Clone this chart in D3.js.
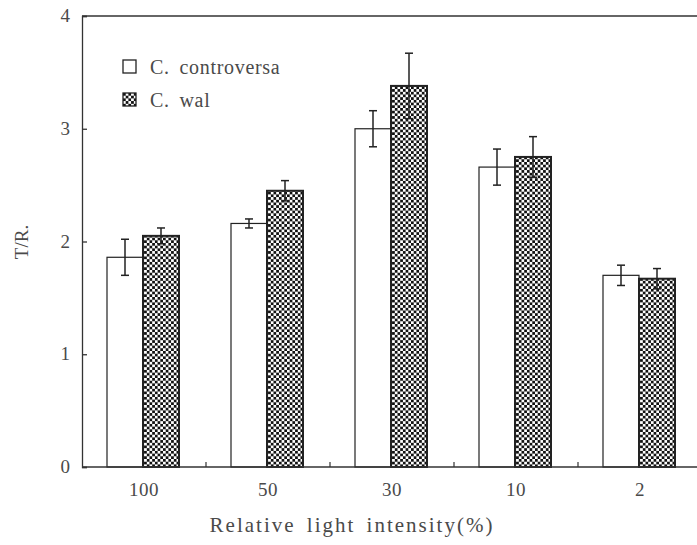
<!DOCTYPE html>
<html>
<head>
<meta charset="utf-8">
<script src="https://cdn.jsdelivr.net/npm/d3@7"></script>
<style>
  body { margin: 0; background: #fff; }
  text { font-family: "Liberation Serif", serif; fill: #4a4a4a; }
</style>
</head>
<body>
<div id="chart"></div>
<script>
(function () {

    var categories = ['100', '50', '30', '10', '2']
    var seriesNames = ['C. controversa', 'C. wal']
    var controversa = [1.86, 2.16, 3.00, 2.66, 1.70]
    var controversaErr = [0.16, 0.04, 0.16, 0.16, 0.09]
    var wal = [2.05, 2.45, 3.38, 2.75, 1.67]
    var walErr = [0.07, 0.09, 0.29, 0.18, 0.09]
    var yTicks = [0, 1, 2, 3, 4]

    var width = 697, height = 545
    var left = 82, top = 16, bottom = 467

    var svg = d3.select('#chart')
        .append('svg')
        .attr('width', width)
        .attr('height', height)

    var defs = svg.append('defs')
    var pat = defs.append('pattern')
        .attr('id', 'checker')
        .attr('patternUnits', 'userSpaceOnUse')
        .attr('width', 5.4)
        .attr('height', 5.4)
    pat.append('rect').attr('width', 5.4).attr('height', 5.4).attr('fill', '#fff')
    pat.append('rect').attr('width', 2.7).attr('height', 2.7).attr('fill', '#111')
    pat.append('rect').attr('x', 2.7).attr('y', 2.7).attr('width', 2.7).attr('height', 2.7).attr('fill', '#111')

    var x = d3.scaleBand().domain(categories).range([left, left + 124 * 5])
    var xInner = d3.scaleBand().domain(seriesNames).range([25, 97])
    var y = d3.scaleLinear().domain([0, 4]).range([bottom, top])

    var data = categories.map(function (c, i) {
        return [
            {cat: c, s: seriesNames[0], v: controversa[i], e: controversaErr[i]},
            {cat: c, s: seriesNames[1], v: wal[i], e: walErr[i]}
        ]
    })

    var groups = svg.selectAll('.grp')
        .data(data)
        .enter().append('g')
        .attr('class', 'grp')
        .attr('transform', function (d) { return 'translate(' + x(d[0].cat) + ',0)' })

    groups.selectAll('rect')
        .data(function (d) { return d })
        .enter().append('rect')
        .attr('x', function (d) { return xInner(d.s) })
        .attr('y', function (d) { return y(d.v) })
        .attr('width', xInner.bandwidth())
        .attr('height', function (d) { return y(0) - y(d.v) })
        .attr('fill', function (d) { return d.s === seriesNames[0] ? '#fff' : 'url(#checker)' })
        .attr('stroke', '#222')
        .attr('stroke-width', function (d) { return d.s === seriesNames[0] ? 1.2 : 2 })

    var err = groups.selectAll('.err')
        .data(function (d) { return d })
        .enter().append('g')
        .attr('class', 'err')
        .attr('stroke', '#222')
        .attr('stroke-width', 1.5)
    err.append('line')
        .attr('x1', function (d) { return xInner(d.s) + xInner.bandwidth() / 2 })
        .attr('x2', function (d) { return xInner(d.s) + xInner.bandwidth() / 2 })
        .attr('y1', function (d) { return y(d.v + d.e) })
        .attr('y2', function (d) { return y(d.v - d.e) })
    err.append('line')
        .attr('x1', function (d) { return xInner(d.s) + xInner.bandwidth() / 2 - 4 })
        .attr('x2', function (d) { return xInner(d.s) + xInner.bandwidth() / 2 + 4 })
        .attr('y1', function (d) { return y(d.v + d.e) })
        .attr('y2', function (d) { return y(d.v + d.e) })
    err.append('line')
        .attr('x1', function (d) { return xInner(d.s) + xInner.bandwidth() / 2 - 4 })
        .attr('x2', function (d) { return xInner(d.s) + xInner.bandwidth() / 2 + 4 })
        .attr('y1', function (d) { return y(d.v - d.e) })
        .attr('y2', function (d) { return y(d.v - d.e) })

    // frame
    svg.append('line').attr('x1', left).attr('x2', width).attr('y1', top).attr('y2', top)
        .attr('stroke', '#333').attr('stroke-width', 1.3)
    svg.append('line').attr('x1', left).attr('x2', width).attr('y1', bottom).attr('y2', bottom)
        .attr('stroke', '#333').attr('stroke-width', 1.3)

    // y axis, ticks pointing inward
    var yAxis = svg.append('g')
        .attr('transform', 'translate(' + left + ',0)')
        .call(d3.axisRight(y).tickValues(yTicks).tickSize(5).tickFormat(''))
    yAxis.select('.domain').attr('stroke', '#333').attr('stroke-width', 1.3)
    yAxis.selectAll('line').attr('stroke', '#333').attr('stroke-width', 1.3)

    svg.selectAll('.ylab')
        .data(yTicks)
        .enter().append('text')
        .attr('class', 'ylab')
        .attr('x', left - 12)
        .attr('y', function (d) { return y(d) + 6 })
        .attr('text-anchor', 'end')
        .attr('font-size', 19)
        .text(function (d) { return d })

    // x ticks between groups, pointing up
    svg.selectAll('.xtick')
        .data(categories.slice(1))
        .enter().append('line')
        .attr('class', 'xtick')
        .attr('x1', function (d) { return x(d) })
        .attr('x2', function (d) { return x(d) })
        .attr('y1', bottom)
        .attr('y2', bottom - 5)
        .attr('stroke', '#333')
        .attr('stroke-width', 1.2)

    svg.selectAll('.xlab')
        .data(categories)
        .enter().append('text')
        .attr('class', 'xlab')
        .attr('x', function (d) { return x(d) + x.bandwidth() / 2 })
        .attr('y', 496)
        .attr('text-anchor', 'middle')
        .attr('font-size', 19)
        .attr('letter-spacing', 0.5)
        .text(function (d) { return d })

    svg.append('text')
        .attr('x', 352)
        .attr('y', 532)
        .attr('text-anchor', 'middle')
        .attr('font-size', 21)
        .attr('letter-spacing', 2)
        .attr('word-spacing', 4)
        .text('Relative light intensity(%)')

    svg.append('text')
        .attr('transform', 'translate(28,242) rotate(-90)')
        .attr('text-anchor', 'middle')
        .attr('font-size', 19)
        .text('T/R.')

    // legend
    var legend = svg.selectAll('.legend')
        .data(seriesNames)
        .enter().append('g')
        .attr('class', 'legend')
        .attr('transform', function (d, i) { return 'translate(123,' + (60 + i * 33) + ')' })
    legend.append('rect')
        .attr('width', 13)
        .attr('height', 13)
        .attr('fill', function (d, i) { return i === 0 ? '#fff' : 'url(#checker)' })
        .attr('stroke', '#222')
        .attr('stroke-width', 1.3)
    legend.append('text')
        .attr('x', 27)
        .attr('y', 14)
        .attr('font-size', 20)
        .attr('letter-spacing', 0.7)
        .attr('word-spacing', 4)
        .text(function (d) { return d })

})()
</script>
</body>
</html>
